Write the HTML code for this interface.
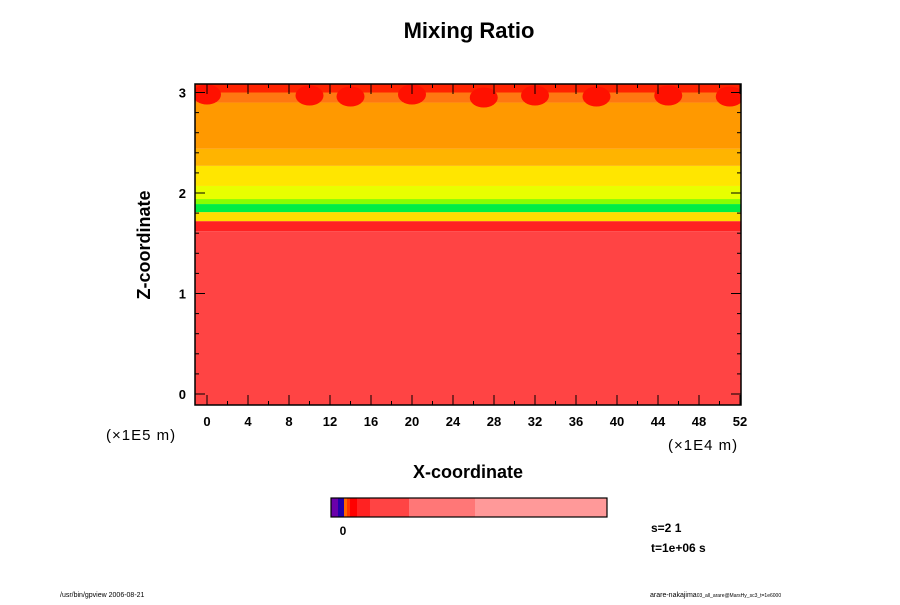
<!DOCTYPE html>
<html><head><meta charset="utf-8"><style>
body{margin:0;background:#fff;}
svg text{font-family:"Liberation Sans",sans-serif;}
</style></head><body>
<svg id="c" width="900" height="600" xmlns="http://www.w3.org/2000/svg">
<defs><clipPath id="pc"><rect x="195" y="84" width="546" height="321"/></clipPath></defs>
<text x="469" y="38" text-anchor="middle" font-size="22" font-weight="bold">Mixing Ratio</text>
<g id="plot" clip-path="url(#pc)"></g>
<g id="axes"></g>
<text x="150" y="245" transform="rotate(-90 150 245)" text-anchor="middle" font-size="18" font-weight="bold">Z-coordinate</text>
<text x="468" y="478" text-anchor="middle" font-size="18" font-weight="bold">X-coordinate</text>
<text x="106" y="440" font-size="15" letter-spacing="1">(×1E5 m)</text>
<text x="668" y="450" font-size="15" letter-spacing="1">(×1E4 m)</text>
<g id="cbar"></g>
<text x="343" y="535" text-anchor="middle" font-size="12" font-weight="bold">0</text>
<text x="651" y="532" font-size="12" font-weight="bold">s=2 1</text>
<text x="651" y="552" font-size="12" font-weight="bold">t=1e+06 s</text>
<text x="60" y="597" font-size="7">/usr/bin/gpview 2006-08-21</text>
<text x="650" y="597" font-size="7">arare-nakajima<tspan font-size="5">03_all_arare@MarsHy_sc3_t=1e6000</tspan></text>
</svg>
<script>
const xTicks=[0,4,8,12,16,20,24,28,32,36,40,44,48,52];
const yTicks=[0,1,2,3];
// band lower bounds (z, x1E5 m) and colors, from bottom upward
const bandLevels=[-0.11,1.62,1.72,1.81,1.89,1.94,2.07,2.27,2.44,2.90,3.00];
const bandColors=["#ff4444","#ff2222","#ffdd00","#00ee44","#88ff00","#e8ff00","#ffe600","#ffb400","#ff9900","#ff7711","#ff2200"];
// red blobs along top
const blobX=[0,10,14,20,27,32,38,45,51];
const blobZ=[2.98,2.97,2.96,2.98,2.95,2.97,2.96,2.97,2.96];
const cbarColors=["#6a00aa","#2200aa","#ff6600","#ff3300","#ff0000","#ff2222","#ff4444","#ff7777","#ff9999"];
const cbarEdges=[0,7,13,16,19,26,39,78,144,276];
const X0=195,X1=741,Y0=84,Y1=405;
const xs=v=>207+v*(533/52), ys=v=>394-v*100.5;
const NS="http://www.w3.org/2000/svg";
function mk(t,a,p){const e=document.createElementNS(NS,t);for(const k in a)e.setAttribute(k,a[k]);p.appendChild(e);return e;}
const plot=document.getElementById('plot'),axes=document.getElementById('axes'),cb=document.getElementById('cbar');
for(let i=0;i<bandLevels.length;i++){
  const top=i+1<bandLevels.length?Math.max(ys(bandLevels[i+1]),Y0):Y0;
  const bot=Math.min(ys(bandLevels[i]),Y1);
  const r=mk('rect',{x:X0,y:top,width:X1-X0,height:bot-top,fill:bandColors[i]},plot);
  
  
}
blobX.forEach((b,i)=>{
  const e=mk('ellipse',{cx:xs(b),cy:ys(blobZ[i]),rx:14,ry:10,fill:'#ff1100'},plot);
  
  
});
mk('rect',{x:X0,y:Y0,width:X1-X0,height:Y1-Y0,fill:'none',stroke:'#000','stroke-width':1.5},axes);
for(let v=0;v<=52;v+=2){const x=xs(v),L=v%4==0?10:4;
  mk('line',{x1:x,y1:Y1,x2:x,y2:Y1-L,stroke:'#000'},axes);mk('line',{x1:x,y1:Y0,x2:x,y2:Y0+L,stroke:'#000'},axes);}
for(let k=0;k<=15;k++){const v=k*0.2,y=ys(v),L=(k%5==0)?10:4;
  mk('line',{x1:X0,y1:y,x2:X0+L,y2:y,stroke:'#000'},axes);mk('line',{x1:X1,y1:y,x2:X1-L,y2:y,stroke:'#000'},axes);}
xTicks.forEach(v=>{const t=mk('text',{x:xs(v),y:426,'text-anchor':'middle','font-size':13,'font-weight':'bold'},axes);t.textContent=v;
  
  });
yTicks.forEach(v=>{const t=mk('text',{x:186,y:ys(v)+5,'text-anchor':'end','font-size':13,'font-weight':'bold'},axes);t.textContent=v;
  
  });
for(let i=0;i<cbarColors.length;i++){
  const r=mk('rect',{x:331+cbarEdges[i],y:498,width:cbarEdges[i+1]-cbarEdges[i],height:19,fill:cbarColors[i]},cb);
  
  
}
mk('rect',{x:331,y:498,width:276,height:19,fill:'none',stroke:'#000','stroke-width':1.2},cb);
</script>
</body></html>
